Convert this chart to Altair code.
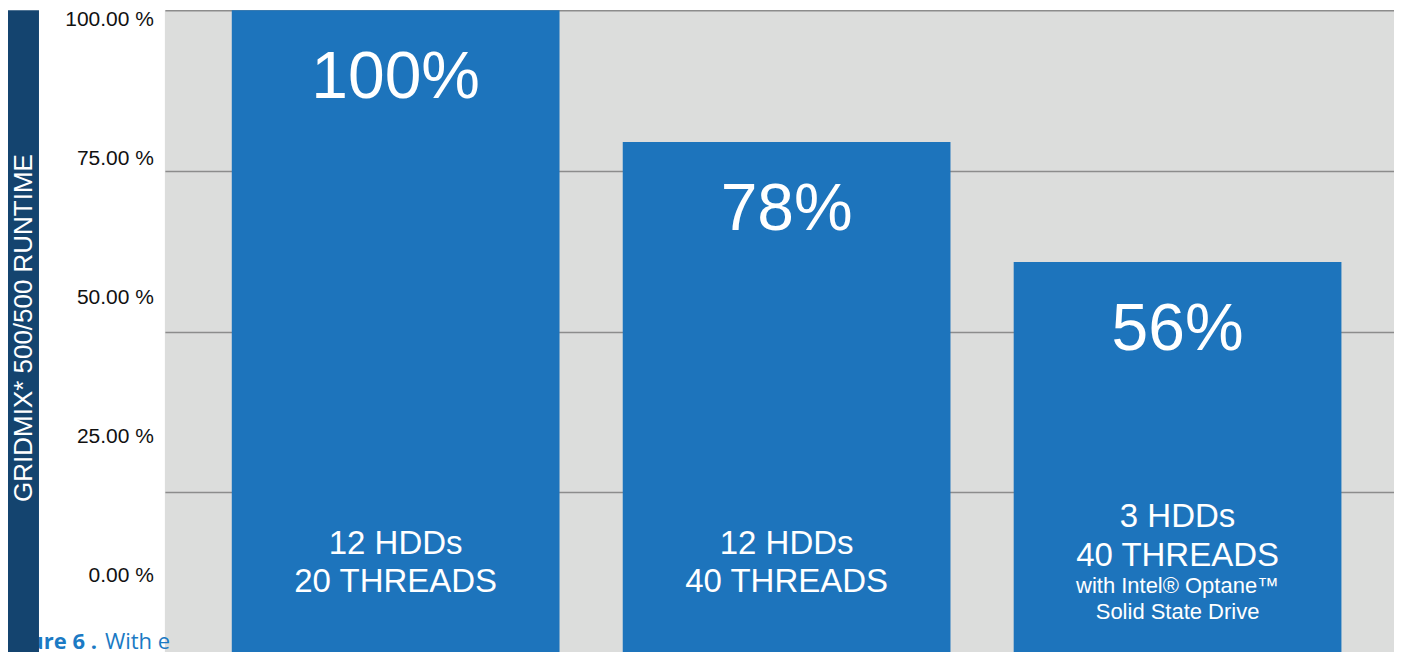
import altair as alt
import pandas as pd

# ---- data ----
categories = ["12 HDDs 20 THREADS", "12 HDDs 40 THREADS", "3 HDDs 40 THREADS Optane SSD"]
bar_values = [100, 79.5, 60.8]
value_labels = ["100%", "78%", "56%"]
line1 = ["12 HDDs", "12 HDDs", "3 HDDs"]
line2 = ["20 THREADS", "40 THREADS", "40 THREADS"]
line3 = ["", "", "with Intel® Optane™"]
line4 = ["", "", "Solid State Drive"]
tick_values = [0, 25, 50, 75, 100]
tick_labels = ["0.00 %", "25.00 %", "50.00 %", "75.00 %", "100.00 %"]
y_title = "GRIDMIX*  500/500 RUNTIME"
caption_bold = "Figure 6 ."
caption_regular = "With e"

BAR = "#1d74bc"
FONT = "Liberation Sans"

df = pd.DataFrame({
    "cat": categories, "value": bar_values, "label": value_labels,
    "l1": line1, "l2": line2, "l3": line3, "l4": line4,
})
df_ticks = pd.DataFrame({"tick": tick_values, "lab": tick_labels})
df_one = pd.DataFrame({"title": [y_title], "cb": [caption_bold], "cr": [caption_regular]})

xenc = alt.X("cat:N", sort=categories, axis=None,
             scale=alt.Scale(paddingInner=0.1617, paddingOuter=0.1528, align=0.56))
yscale = alt.Scale(domain=[0, 100], nice=False)

base = alt.Chart(df)

bars = base.mark_bar(color=BAR).encode(
    x=xenc,
    y=alt.Y("value:Q", scale=yscale,
            axis=alt.Axis(values=tick_values, grid=True, gridColor="#8c8c8c", gridWidth=1.5,
                          labels=False, ticks=False, domain=False, title=None)),
)

pct = base.mark_text(color="white", fontSize=66, font=FONT, baseline="alphabetic", dy=88).encode(
    x=xenc, y=alt.Y("value:Q", scale=yscale, axis=None), text="label:N")

def line(filter_expr, field, ypos, size):
    return base.transform_filter(filter_expr).mark_text(
        color="white", fontSize=size, font=FONT, baseline="alphabetic"
    ).encode(x=xenc, y=alt.value(ypos), text=f"{field}:N")

t1a = line("datum.l3 == ''", "l1", 544, 33)
t2a = line("datum.l3 == ''", "l2", 582, 33)
t1b = line("datum.l3 != ''", "l1", 517, 33)
t2b = line("datum.l3 != ''", "l2", 556, 33)
t3b = line("datum.l3 != ''", "l3", 583, 22)
t4b = line("datum.l3 != ''", "l4", 609, 22)

ticks = alt.Chart(df_ticks).mark_text(align="right", baseline="middle", fontSize=21,
                                      font=FONT, color="#111111").encode(
    x=alt.value(-11),
    y=alt.Y("tick:Q", scale=alt.Scale(domain=[0, 100], range=[566, 10], nice=False), axis=None),
    text="lab:N",
)

one = alt.Chart(df_one)
cap_b = one.mark_text(align="right", baseline="alphabetic", fontSize=22, font="Open Sans",
                      fontWeight="bold", color="#1b7ac4").encode(
    x=alt.value(-68), y=alt.value(639), text="cb:N")
cap_r = one.mark_text(align="left", baseline="alphabetic", fontSize=22, font="Open Sans",
                      color="#1b7ac4").encode(
    x=alt.value(-60), y=alt.value(639), text="cr:N")
side = one.mark_rect(color="#14446f").encode(
    x=alt.value(-157), x2=alt.value(-126), y=alt.value(0), y2=alt.value(660))
side_t = one.mark_text(angle=270, align="center", baseline="middle", fontSize=26,
                       font=FONT, color="white").encode(
    x=alt.value(-141), y=alt.value(318), text="title:N")

chart = alt.layer(
    cap_b, cap_r, side, side_t, bars, pct, t1a, t2a, t1b, t2b, t3b, t4b, ticks
).resolve_scale(y="independent").properties(
    width=1230, height=643, autosize="none",
    padding={"left": 157, "top": 2, "right": 0, "bottom": 0},
).configure_view(fill="#dcdddc", strokeWidth=0)

chart.save("out.html", embed_options={"renderer": "svg", "actions": False})
